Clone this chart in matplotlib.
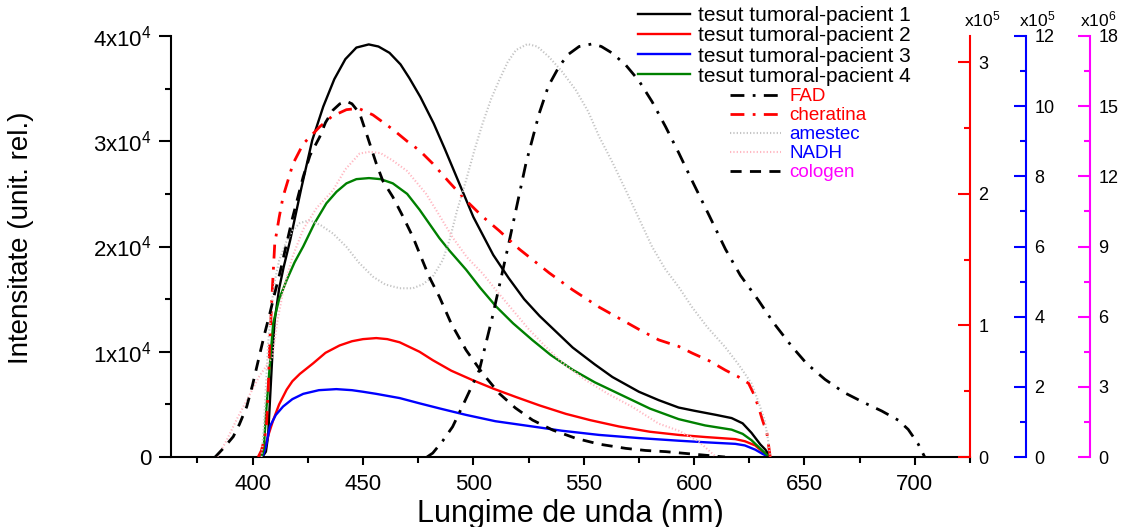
import numpy as np
import matplotlib.pyplot as plt
from matplotlib.ticker import MultipleLocator, FuncFormatter

plt.rcParams['font.family'] = ['Liberation Sans', 'DejaVu Sans']
plt.rcParams['mathtext.fontset'] = 'custom'
plt.rcParams['mathtext.rm'] = 'Liberation Sans'
plt.rcParams['mathtext.it'] = 'Liberation Sans'

# tesut tumoral, intensitate (unit. rel.)
wl_p1 = [403, 405, 406, 407, 408, 409, 410, 412, 414, 417, 422, 427, 432, 437, 442, 447, 452.6, 457, 462,
         467, 471, 476, 482, 487, 494, 500, 509, 516, 523, 530, 538, 545, 555, 563, 575, 584, 593, 600,
         610, 617, 622, 626, 630, 632.3, 634.5]
p1 = [0, 200, 500, 2000, 6000, 10000, 13000, 16000, 18000, 20600, 25500, 30100, 33300, 35900, 37800,
      38900, 39200, 39000, 38400, 37300, 36000, 34200, 31700, 29300, 25800, 22800, 19200, 17000, 15000,
      13400, 11800, 10400, 8800, 7600, 6200, 5400, 4700, 4400, 4000, 3700, 3200, 2300, 1200, 700, 0]

wl_p2 = [403.3, 405, 407, 409.3, 412, 415.4, 418, 421.4, 427.4, 433, 439.4, 445, 450, 456, 461, 466.6,
         475.6, 481.6, 490, 499.7, 509, 519.3, 530, 541.9, 553, 566, 580, 593, 605, 618.7, 623, 627.7,
         631, 634]
p2 = [0, 500, 2000, 3500, 5000, 6400, 7200, 7900, 8900, 9900, 10600, 11000, 11200, 11300, 11200, 10900,
      10000, 9200, 8200, 7300, 6500, 5700, 4900, 4100, 3500, 2900, 2400, 2100, 1900, 1700, 1500, 1100,
      500, 0]

wl_p3 = [404.5, 406, 407.8, 410.5, 413.8, 418, 422.9, 430, 437.9, 445, 450, 456, 466.6, 475.6, 485, 496.7,
         510, 526.8, 540, 556.9, 575, 593, 605, 618.7, 623, 627.7, 631, 634]
p3 = [0, 1000, 2900, 4000, 4800, 5500, 6000, 6350, 6450, 6350, 6200, 6000, 5600, 5100, 4600, 4000, 3400,
      2900, 2500, 2100, 1800, 1550, 1400, 1250, 1100, 700, 300, 0]

wl_p4 = [404, 405, 406.3, 407.5, 409.3, 412, 415.4, 419, 422.9, 428, 433.4, 438, 442.5, 447, 452.7, 458,
         463.5, 470, 475.6, 484.6, 489.2, 496.7, 503, 510.3, 518, 526.8, 535, 544.9, 555, 566, 580, 593,
         605, 617, 622, 626, 630, 634]
p4 = [0, 800, 4800, 8000, 12700, 15000, 16800, 18500, 20000, 22200, 24100, 25200, 26000, 26400, 26500,
      26400, 26000, 25000, 23500, 20800, 19600, 17800, 16100, 14300, 12700, 11100, 9700, 8300, 7100, 6000,
      4600, 3600, 3000, 2600, 2200, 1600, 800, 0]

# FAD, cheratina (axa rosie, x10^5)
wl_fad = [479, 481.6, 486, 490.6, 496, 502.7, 508.7, 516, 523.8, 529.8, 534, 538.9, 543, 547.9, 553.9,
          558, 562.9, 569, 575, 581, 587.1, 593.1, 599.1, 607, 614.2, 621, 629.2, 636, 644.3, 651, 659.3,
          668, 677.4, 685, 692.5, 697, 701.5, 704.5]
fad = [0, 3000, 12000, 23000, 42000, 66000, 107000, 162000, 223000, 261000, 282000, 297000, 306000,
       312000, 314000, 312000, 307000, 298000, 286000, 270000, 251000, 231000, 210000, 183000, 158000,
       138000, 119000, 102000, 84000, 71000, 59000, 49000, 41000, 35000, 28000, 21000, 10000, 0]

wl_cher = [402.5, 404, 405.5, 406.3, 407, 407.8, 409, 410, 412, 413.8, 418.3, 422.9, 430.4, 436, 442.5,
           448, 454.5, 463.5, 470, 475.6, 481.6, 489, 496.7, 504, 511.7, 520.8, 534.3, 545, 556.9, 575,
           584, 593.1, 599.1, 607, 614.2, 620, 624.7, 627, 629.2, 631, 633, 634.5]
cher = [0, 5000, 15000, 25000, 50000, 89000, 130000, 162000, 182000, 198000, 223000, 238000, 251000,
        259000, 264000, 265000, 260000, 249000, 240000, 233000, 223000, 209000, 195000, 183000, 172000,
        158000, 140000, 127000, 114000, 97000, 89000, 84000, 79000, 73000, 66000, 61000, 56000, 48000,
        38000, 28000, 18000, 0]

# amestec, NADH (axa albastra, x10^5)
wl_ame = [404, 405, 406, 407, 408.5, 410, 412, 415, 418, 421.4, 425.9, 431, 436.4, 442.5, 448, 454.5, 460,
          466.6, 472.6, 477, 481.6, 486.1, 489.2, 492.5, 496.7, 500.5, 504.2, 508, 511.7, 515.5, 519.3,
          524.5, 529, 534.3, 540, 546.4, 552, 557, 563, 569, 575, 581, 587, 593, 599, 606, 614, 620, 626,
          629, 632, 633.5, 634.5]
ame = [0, 80000, 200000, 320000, 430000, 500000, 560000, 610000, 645000, 667000, 675000, 660000, 637000,
       599000, 555000, 514000, 492000, 481000, 481000, 492000, 514000, 561000, 618000, 700000, 789000,
       875000, 951000, 1020000, 1074000, 1125000, 1160000, 1177000, 1170000, 1140000, 1100000, 1046000,
       985000, 913000, 840000, 761000, 680000, 599000, 535000, 485000, 428000, 370000, 314000, 265000,
       210000, 160000, 105000, 50000, 0]

wl_nadh = [384, 388, 393, 398, 403, 409, 411, 414, 418, 423, 429, 436.4, 442, 448.5, 453, 458, 463.5, 470,
           478.6, 484, 490.7, 497, 504.2, 511, 517.8, 525, 532.8, 541, 550.9, 561, 572, 584, 593, 602, 610]
nadh = [0, 45000, 110000, 170000, 230000, 285000, 380000, 480000, 570000, 650000, 710000, 760000, 820000,
        865000, 870000, 866000, 845000, 815000, 750000, 695000, 625000, 570000, 523000, 470000, 419000,
        365000, 314000, 265000, 219000, 180000, 143000, 95000, 75000, 45000, 0]

# cologen (axa magenta, x10^6)
wl_col = [383, 387, 391.2, 394, 397.3, 400, 403.3, 405.5, 407.8, 410, 412.3, 415.4, 418, 422.9, 426, 430.4,
          433, 436.4, 439.5, 442.5, 445, 448.5, 452, 456, 459, 463.5, 468, 472.6, 475.6, 480, 484.6, 490,
          496.7, 504, 511.7, 519, 526.8, 536, 546.4, 557, 569, 578, 587.1, 600, 614]
col = [0, 0.4, 0.87, 1.4, 2.15, 3.1, 4.43, 5.3, 6.14, 7.0, 7.85, 9.13, 10.2, 11.98, 12.9, 13.69, 14.3,
       14.83, 15.1, 15.21, 15.1, 14.69, 13.7, 12.55, 11.8, 11.12, 10.3, 9.41, 8.71, 7.7, 6.85, 5.7, 4.57,
       3.6, 2.72, 2.1, 1.58, 1.15, 0.8, 0.55, 0.37, 0.28, 0.23, 0.12, 0]
col = [v * 1e6 for v in col]

fig = plt.figure(figsize=(11.22, 5.27), dpi=100)
ax = fig.add_axes([0.1524, 0.1328, 0.7121, 0.7989])
ax_r = ax.twinx()
ax_b = ax.twinx()
ax_m = ax.twinx()
ax_b.spines['right'].set_position(('axes', 1.070))
ax_m.spines['right'].set_position(('axes', 1.150))

lw = 1.7
l1, = ax.plot(wl_p1, p1, color='black', lw=lw, label='tesut tumoral-pacient 1')
l2, = ax.plot(wl_p2, p2, color='red', lw=lw, label='tesut tumoral-pacient 2')
l3, = ax.plot(wl_p3, p3, color='blue', lw=lw, label='tesut tumoral-pacient 3')
l4, = ax.plot(wl_p4, p4, color='green', lw=lw, label='tesut tumoral-pacient 4')

l5, = ax_r.plot(wl_fad, fad, color='black', lw=2, dashes=(5, 3, 1, 3), label='FAD')
l6, = ax_r.plot(wl_cher, cher, color='red', lw=2, dashes=(5, 3, 1, 3), label='cheratina')
l7, = ax_b.plot(wl_ame, ame, color='#c4c4c4', lw=1.5, dashes=(0.6, 1.0), label='amestec')
l8, = ax_b.plot(wl_nadh, nadh, color='#ffb8c2', lw=1.5, dashes=(0.6, 1.0), label='NADH')
l9, = ax_m.plot(wl_col, col, color='black', lw=2, dashes=(4, 3), label='cologen')

ax.set_xlim(363, 725)
ax.set_ylim(0, 4e4)
ax_r.set_ylim(0, 3.2e5)
ax_b.set_ylim(0, 12e5)
ax_m.set_ylim(0, 18e6)

ax.spines['top'].set_visible(False)
ax.spines['right'].set_visible(False)
for s in ['left', 'bottom']:
    ax.spines[s].set_linewidth(1.5)
ax.xaxis.set_major_locator(MultipleLocator(50))
ax.xaxis.set_minor_locator(MultipleLocator(25))
ax.yaxis.set_major_locator(MultipleLocator(1e4))
ax.yaxis.set_minor_locator(MultipleLocator(5e3))
ax.yaxis.set_major_formatter(FuncFormatter(lambda v, p: '0' if v == 0 else '%dx10$^{4}$' % round(v / 1e4)))
ax.tick_params(axis='both', which='major', direction='out', width=1.5, labelsize=16)
ax.tick_params(axis='y', which='major', length=9, pad=5)
ax.tick_params(axis='y', which='minor', length=4.5, width=1.5)
ax.tick_params(axis='x', which='major', length=6, pad=6)
ax.tick_params(axis='x', which='minor', length=4, width=1.5)
ax.set_xlabel('Lungime de unda (nm)', fontsize=22)
ax.set_ylabel('Intensitate (unit. rel.)', fontsize=20)
ax.xaxis.set_label_coords(0.5, -0.1)
ax.yaxis.set_label_coords(-0.171, 0.52)

right_axes = [(ax_r, 'red', 1e5, 0.5e5, 1e5, 1.015, 5),
              (ax_b, 'blue', 2e5, 1e5, 1e5, 1.084, 5),
              (ax_m, 'magenta', 3e6, 1.5e6, 1e6, 1.160, 6)]
for a, c, major, minor, scale, xt, ex in right_axes:
    for s in ['left', 'top', 'bottom']:
        a.spines[s].set_visible(False)
    a.spines['right'].set_color(c)
    a.spines['right'].set_linewidth(1.5)
    a.yaxis.set_major_locator(MultipleLocator(major))
    a.yaxis.set_minor_locator(MultipleLocator(minor))
    a.yaxis.set_major_formatter(FuncFormatter(lambda v, p, sc=scale: '%d' % round(v / sc)))
    a.tick_params(axis='y', which='major', direction='in', length=9, width=1.5, color=c,
                  labelsize=13, pad=6)
    a.tick_params(axis='y', which='minor', direction='in', length=4.5, width=1.5, color=c)
    ax.text(xt, 1.04, 'x10$^{%d}$' % ex, transform=ax.transAxes, ha='center', va='center', fontsize=12.5)

leg1 = fig.legend(handles=[l1, l2, l3, l4], loc='upper left', bbox_to_anchor=(638 / 1122, 1 - 6 / 527),
                  frameon=False, fontsize=15, handlelength=2.5, handletextpad=0.4, labelspacing=0.06,
                  borderpad=0, borderaxespad=0)
leg2 = fig.legend(handles=[l5, l6, l7, l8, l9], loc='upper left', bbox_to_anchor=(730 / 1122, 1 - 88 / 527),
                  frameon=False, fontsize=13.5, handlelength=2.7, handletextpad=0.45, labelspacing=0.1,
                  borderpad=0, borderaxespad=0,
                  labelcolor=['red', 'red', 'blue', 'blue', 'magenta'])

fig.savefig('out.png', dpi=100, facecolor='white')
